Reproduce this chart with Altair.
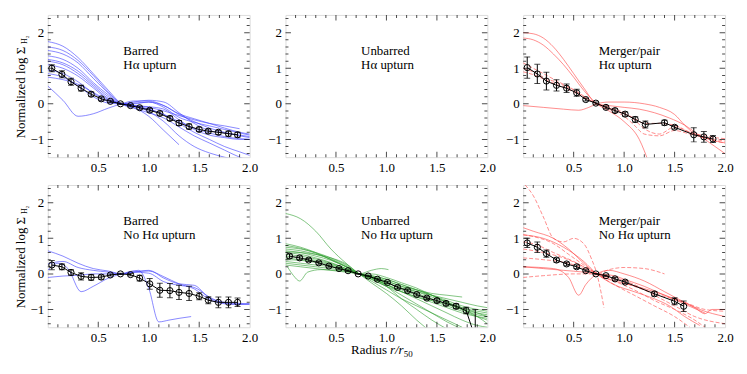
import altair as alt
import pandas as pd

W, H = 203, 143
FONT = "Times New Roman, Liberation Serif, DejaVu Serif, serif"

# radial bins of the mean profiles
R = [0.04, 0.14, 0.23, 0.33, 0.43, 0.53, 0.62, 0.72, 0.82, 0.91,
     1.01, 1.11, 1.21, 1.30, 1.40, 1.50, 1.59, 1.69, 1.79, 1.88]

# mean profiles and errors
BAR_UP_MEAN = [1.0, 0.83, 0.62, 0.44, 0.27, 0.14, 0.07, 0.0, -0.05, -0.11,
               -0.18, -0.27, -0.41, -0.54, -0.64, -0.72, -0.77, -0.8, -0.84, -0.87]
BAR_UP_ERR = [0.1, 0.1, 0.1, 0.08, 0.06, 0.05, 0.03, 0.02, 0.03, 0.04,
              0.05, 0.05, 0.06, 0.07, 0.07, 0.06, 0.06, 0.06, 0.07, 0.07]
MRG_UP_MEAN = [1.02, 0.84, 0.64, 0.52, 0.44, 0.31, 0.12, 0.02, -0.1, -0.19,
               -0.29, -0.44, -0.58, None, -0.53, -0.66, None, -0.87, -0.93, -0.99]
MRG_UP_ERR = [0.3, 0.27, 0.25, 0.16, 0.12, 0.1, 0.04, 0.03, 0.04, 0.05,
              0.06, 0.08, 0.1, None, 0.07, 0.05, None, 0.2, 0.15, 0.1]
BAR_NO_MEAN = [0.25, 0.2, 0.04, -0.07, -0.1, -0.09, -0.03, 0.0, -0.02, -0.12,
               -0.28, -0.46, -0.47, -0.52, -0.55, -0.63, -0.74, -0.8, -0.8, -0.8]
BAR_NO_ERR = [0.13, 0.08, 0.08, 0.1, 0.08, 0.06, 0.03, 0.02, 0.03, 0.08,
              0.15, 0.2, 0.2, 0.2, 0.2, 0.1, 0.1, 0.15, 0.15, 0.12]
UNB_NO_MEAN = [0.5, 0.45, 0.39, 0.31, 0.22, 0.15, 0.09, 0.0, -0.06, -0.15,
               -0.24, -0.38, -0.47, -0.58, -0.68, -0.75, -0.83, -0.91, -1.03, -1.8]
UNB_NO_ERR = [0.06, 0.05, 0.04, 0.04, 0.03, 0.03, 0.02, 0.01, 0.02, 0.03,
              0.03, 0.04, 0.04, 0.04, 0.04, 0.05, 0.05, 0.07, 0.09, 0.8]
MRG_NO_MEAN = [0.87, 0.75, 0.57, 0.39, 0.28, 0.2, 0.09, 0.0, -0.05, -0.14,
               -0.23, None, None, -0.56, None, -0.77, -0.91, None, None, None]
MRG_NO_ERR = [0.13, 0.15, 0.1, 0.06, 0.05, 0.05, 0.03, 0.01, 0.02, 0.04,
              0.04, None, None, 0.06, None, 0.1, 0.15, None, None, None]

# individual galaxy profiles
GRID = [0.0, 0.15, 0.3, 0.45, 0.6, 0.73, 0.85, 1.0, 1.15, 1.3, 1.45, 1.6, 1.75, 1.9, 2.0]

BAR_UP_LINES = [
    [1.75, 1.62, 1.3, 0.85, 0.38, 0.0, -0.12, -0.25, -0.4, -0.65, -0.9, -1.1, -1.3, -1.5, -1.6],
    [1.6, 1.5, 1.22, 0.8, 0.33, 0.0, -0.08, -0.15, -0.3, -0.55, -0.8, -1.0, -1.2, -1.35, -1.45],
    [1.5, 1.4, 1.15, 0.72, 0.3, 0.0, -0.05, -0.08, -0.15, -0.45, -0.72, -0.88, -0.95, -1.0, -1.0],
    [1.35, 1.25, 1.0, 0.6, 0.25, 0.0, 0.05, 0.1, 0.05, -0.25, -0.55, -0.75, -0.82, -0.88, -0.92],
    [1.25, 1.15, 0.92, 0.55, 0.2, 0.0, 0.0, 0.05, -0.1, -0.38, -0.52, -0.62, -0.72, -0.82, -0.88],
    [1.2, 1.1, 0.85, 0.5, 0.15, 0.0, -0.05, -0.22, -0.5, -0.9, -1.2, -1.38, -1.5, -1.6, None],
    [1.1, 1.0, 0.78, 0.45, 0.12, 0.0, -0.1, -0.35, -0.75, -1.15, None, None, None, None, None],
    [0.95, 0.85, 0.62, 0.3, 0.06, 0.0, -0.05, -0.1, -0.2, -0.33, -0.45, -0.55, -0.62, -0.7, None],
    [0.85, 0.75, 0.5, 0.2, 0.02, 0.0, 0.02, 0.05, -0.05, -0.28, -0.42, -0.55, -0.68, -0.8, -0.85],
    [0.75, 0.68, 0.55, 0.32, 0.1, 0.0, -0.05, -0.15, -0.3, -0.5, -0.68, -0.82, -0.92, -0.98, -1.0],
    [0.5, 0.1, -0.35, -0.28, -0.12, 0.0, 0.08, 0.08, -0.05, -0.3, -0.5, -0.68, -0.8, -0.9, -0.95],
]

BAR_NO_LINES = [
    [0.65, 0.5, 0.3, 0.15, 0.08, 0.0, 0.05, 0.02, -0.22, -0.32, -0.38, -0.65, -0.82, -0.85, -0.85],
    [0.28, 0.35, 0.18, 0.1, 0.05, 0.0, 0.05, 0.1, -0.12, -0.28, -0.32, -0.68, -0.8, -0.83, -0.85],
    [-0.1, -0.06, -0.04, 0.0, 0.0, 0.0, 0.05, 0.08, -0.08, -0.28, -0.42, -0.72, -0.84, -0.86, -0.84],
]
BAR_NO_DIP_X = [0.0, 0.1, 0.2, 0.33, 0.45, 0.6, 0.73, 0.9, 1.0, 1.1, 1.2, 1.3, 1.42]
BAR_NO_DIP_Y = [0.1, 0.3, 0.15, -0.5, -0.35, -0.12, 0.0, 0.1, -0.4, -1.35, -1.3, -1.25, -1.2]

UNB_NO_LINES = [
    [1.7, 1.55, 1.2, 0.7, 0.3, 0.0, -0.15, -0.35, -0.5, -0.65, -0.8, -0.95, -1.1, -1.2, -1.25],
    [0.85, 0.75, 0.6, 0.4, 0.2, 0.0, -0.1, -0.3, -0.45, -0.6, -0.75, -0.9, -1.05, -1.2, -1.3],
    [0.8, 0.72, 0.58, 0.4, 0.2, 0.0, -0.12, -0.3, -0.5, -0.7, -0.9, -1.1, -1.3, -1.45, -1.5],
    [0.75, 0.7, 0.6, 0.45, 0.25, 0.0, -0.2, -0.45, -0.7, -0.9, -1.1, -1.3, -1.5, None, None],
    [0.7, 0.65, 0.55, 0.42, 0.22, 0.0, -0.1, -0.25, -0.4, -0.5, -0.6, -0.7, -0.8, -0.9, -0.95],
    [0.65, 0.6, 0.5, 0.38, 0.2, 0.0, -0.08, -0.2, -0.35, -0.5, -0.65, -0.8, -0.95, -1.05, -1.1],
    [0.6, 0.55, 0.45, 0.32, 0.15, 0.0, -0.1, -0.25, -0.4, -0.55, -0.7, -0.85, -1.0, -1.15, -1.2],
    [0.55, 0.5, 0.42, 0.3, 0.15, 0.0, -0.05, -0.15, -0.3, -0.45, -0.6, -0.8, -0.95, -1.1, -1.2],
    [0.5, 0.45, 0.38, 0.28, 0.12, 0.0, -0.15, -0.35, -0.6, -0.85, -1.1, -1.35, -1.55, None, None],
    [0.45, 0.4, 0.35, 0.25, 0.12, 0.0, -0.1, -0.3, -0.5, -0.65, -0.75, -0.85, -1.0, -1.1, -1.15],
    [0.4, 0.38, 0.32, 0.22, 0.1, 0.0, -0.08, -0.2, -0.35, -0.45, -0.55, -0.6, -0.65, None, None],
    [0.35, 0.3, 0.25, 0.2, 0.1, 0.0, -0.05, -0.15, -0.3, -0.45, -0.6, -0.75, -0.9, -1.0, -1.05],
    [0.3, 0.25, 0.2, 0.15, 0.08, 0.0, 0.0, -0.1, -0.25, -0.4, -0.6, -0.8, -1.0, -1.2, -1.4],
    [0.25, 0.2, 0.15, 0.1, 0.05, 0.0, -0.1, -0.35, -0.7, -1.0, -1.3, -1.55, None, None, None],
    [0.62, 0.6, 0.55, 0.45, 0.28, 0.0, -0.25, -0.55, -0.9, -1.3, -1.65, None, None, None, None],
]
UNB_NO_BUMP_X = [0.02, 0.08, 0.14, 0.22, 0.35, 0.5, 0.65, 0.73, 0.85, 0.95, 1.02]
UNB_NO_BUMP_Y = [0.2, -0.05, -0.2, 0.05, 0.12, 0.1, 0.05, 0.0, 0.1, 0.15, 0.12]

# merger/pair profiles: (x, y, dashed)
MRG_UP_LINES = [
    ([0, 0.1, 0.2, 0.3, 0.4, 0.5, 0.6, 0.73, 0.85, 1.0, 1.15, 1.3, 1.45, 1.6, 1.75, 1.9, 2.0],
     [2.0, 1.97, 1.85, 1.6, 1.25, 0.85, 0.45, 0.0, -0.05, -0.1, -0.15, -0.25, -0.4, -0.6, -0.9, -1.2, -1.4], False),
    ([0, 0.1, 0.2, 0.3, 0.4, 0.5, 0.6, 0.73, 0.85, 1.0, 1.15, 1.25],
     [1.85, 1.8, 1.65, 1.4, 1.1, 0.75, 0.38, 0.0, -0.2, -0.5, -1.0, -1.7], False),
    ([0, 0.2, 0.4, 0.55, 0.65, 0.73, 0.85, 1.0, 1.2, 1.35, 1.5, 1.6, 1.7, 1.85, 2.0],
     [-0.05, -0.1, -0.15, -0.18, -0.1, 0.0, 0.05, 0.05, 0.0, -0.1, -0.3, -0.6, -0.85, -1.0, -1.1], False),
    ([0, 0.1, 0.2, 0.35, 0.5, 0.6, 0.73, 0.85, 1.0, 1.1, 1.2, 1.35, 1.5, 1.65, 1.8, 1.9, 2.0],
     [1.15, 1.0, 0.85, 0.62, 0.4, 0.22, 0.0, -0.12, -0.28, -0.4, -0.55, -0.55, -0.6, -0.8, -0.9, -0.95, -0.98], True),
    ([0, 0.1, 0.2, 0.35, 0.5, 0.6, 0.73, 0.85, 1.0, 1.1, 1.2, 1.35, 1.5, 1.65, 1.8, 1.9, 2.0],
     [1.0, 0.9, 0.75, 0.58, 0.38, 0.2, 0.0, -0.15, -0.35, -0.6, -0.85, -0.9, -0.75, -0.85, -0.95, -1.0, -1.05], True),
    ([0, 0.1, 0.2, 0.35, 0.5, 0.6, 0.73, 0.85, 1.0, 1.1, 1.2, 1.35, 1.5, 1.65, 1.8, 1.9, 2.0],
     [0.9, 0.82, 0.7, 0.52, 0.33, 0.18, 0.0, -0.1, -0.25, -0.45, -0.7, -0.85, -0.65, -0.8, -0.95, -1.05, -1.1], True),
]

MRG_NO_LINES = [
    ([0.02, 0.1, 0.2, 0.3, 0.4, 0.5, 0.6, 0.68, 0.73, 0.77, 0.8],
     [2.5, 2.2, 1.6, 1.0, 0.9, 1.0, 0.85, 0.4, 0.0, -0.5, -0.95], True),
    ([0, 0.1, 0.3, 0.45, 0.6, 0.73, 0.9, 1.05, 1.3, 1.5, 1.7, 1.8, 1.87, 2.0],
     [1.3, 1.2, 1.0, 0.7, 0.3, 0.0, -0.2, -0.3, -0.5, -0.7, -0.95, -1.12, -1.0, -1.0], False),
    ([0, 0.3, 0.45, 0.55, 0.62, 0.73, 0.85, 1.0, 1.2, 1.4, 1.6, 1.75, 2.0],
     [0.2, 0.15, -0.1, -0.6, -0.3, 0.0, 0.1, 0.0, -0.2, -0.5, -0.8, -1.0, -1.2], False),
    ([0, 0.1, 0.3, 0.45, 0.6, 0.73, 0.9, 1.1, 1.3, 1.5, 1.65],
     [1.1, 1.05, 0.85, 0.55, 0.25, 0.0, -0.3, -0.6, -0.9, -1.2, -1.5], True),
    ([0, 0.2, 0.45, 0.6, 0.73, 0.85, 1.0, 1.2, 1.4],
     [0.45, 0.4, 0.3, 0.15, 0.0, 0.12, 0.18, 0.15, 0.0], True),
    ([0, 0.2, 0.5, 0.73, 0.9, 1.1, 1.3, 1.5, 1.7, 2.0],
     [-0.1, -0.05, 0.0, 0.0, -0.1, -0.3, -0.6, -0.9, -1.2, -1.4], True),
    ([0, 0.2, 0.4, 0.6, 0.73, 0.9, 1.1, 1.3, 1.45, 1.6, 1.75],
     [1.1, 1.0, 0.75, 0.35, 0.0, -0.3, -0.5, -0.7, -0.9, -1.2, -1.45], False),
    ([0, 0.2, 0.4, 0.6, 0.73, 0.9, 1.1, 1.3, 1.5, 1.7, 1.8],
     [0.7, 0.6, 0.45, 0.2, 0.0, -0.2, -0.45, -0.75, -1.0, -1.3, -1.5], True),
    ([0, 0.1, 0.3, 0.5, 0.73, 0.9, 1.05, 1.3, 1.6, 1.8, 2.0],
     [0.9, 0.85, 0.6, 0.35, 0.0, -0.15, -0.3, -0.55, -0.8, -1.0, -1.05], True),
    ([0, 0.2, 0.4, 0.6, 0.73, 0.9, 1.0, 1.2, 1.4, 1.6, 1.8],
     [0.2, 0.15, 0.1, 0.05, 0.0, -0.05, -0.15, -0.35, -0.6, -0.85, -1.1], False),
]

# inward tick marks (positions in data units)
XTICKS = [0.1, 0.2, 0.3, 0.4, 0.5, 0.6, 0.7, 0.8, 0.9, 1.0,
          1.1, 1.2, 1.3, 1.4, 1.5, 1.6, 1.7, 1.8, 1.9]
XMAJOR = [0.5, 1.0, 1.5]
YTICKS = [-1.4, -1.2, -1.0, -0.8, -0.6, -0.4, -0.2, 0.0, 0.2, 0.4, 0.6, 0.8,
          1.0, 1.2, 1.4, 1.6, 1.8, 2.0, 2.2, 2.4]
YMAJOR = [-1.0, 0.0, 1.0, 2.0]

XSC = alt.Scale(domain=[0, 2], nice=False, zero=False)
YSC = alt.Scale(domain=[-1.5, 2.5], nice=False, zero=False)
AXCOMMON = dict(title=None, grid=False, ticks=False, domain=False,
                labelFlush=False, labelOverlap=False, labelFont=FONT,
                labelFontSize=13, labelColor="black", labelPadding=4)
XAX = alt.Axis(values=[0.5, 1.0, 1.5, 2.0], format=".1f", **AXCOMMON)
YAX = alt.Axis(values=[-1, 0, 1, 2], format="d", **AXCOMMON)


def X(f="x"):
    return alt.X(f"{f}:Q", scale=XSC, axis=XAX)


def Y(f="y"):
    return alt.Y(f"{f}:Q", scale=YSC, axis=YAX)


def grid_lines(rows):
    return [(GRID, ys, False) for ys in rows]


def lines_df(lines):
    out = []
    for i, (xs, ys, d) in enumerate(lines):
        for j, (x, y) in enumerate(zip(xs, ys)):
            if y is None:
                continue
            out.append({"line": i, "x": x, "y": y, "order": j, "dashed": d})
    return pd.DataFrame(out)


def mean_df(mean, err):
    return pd.DataFrame([{"x": r, "y": m, "lo": m - e, "hi": m + e}
                         for r, m, e in zip(R, mean, err) if m is not None])


xt = pd.DataFrame({"x": XTICKS, "len": [11 if v in XMAJOR else 6 for v in XTICKS]})
yt = pd.DataFrame({"y": YTICKS, "len": [11 if v in YMAJOR else 6 for v in YTICKS]})


def tick_layers():
    tx = alt.Chart(xt).mark_tick(orient="vertical", thickness=1, color="black", clip=True)
    ty = alt.Chart(yt).mark_tick(orient="horizontal", thickness=1, color="black", clip=True)
    s = alt.Size("len:Q", scale=None)
    return [
        tx.encode(x=X(), y=alt.value(H), size=s),
        tx.encode(x=X(), y=alt.value(0), size=s),
        ty.encode(y=Y(), x=alt.value(0), size=s),
        ty.encode(y=Y(), x=alt.value(W), size=s),
    ]


def txt(text, x, y, size=13, **kw):
    return alt.Chart(pd.DataFrame({"k": [0]})).mark_text(
        text=text, font=FONT, fontSize=size, color="black", **kw
    ).encode(x=alt.value(x), y=alt.value(y))


def panel(label, lines, color, mean=None, err=None, left=False, xtitle=False):
    layers = []
    if lines:
        df = lines_df(lines)
        for dashed in (False, True):
            sub = df[df["dashed"] == dashed]
            if len(sub) == 0:
                continue
            kw = dict(color=color, strokeWidth=1, opacity=0.6, clip=True,
                      interpolate="monotone")
            if dashed:
                kw["strokeDash"] = [4, 2]
            layers.append(alt.Chart(sub).mark_line(**kw).encode(
                x=X(), y=Y(), detail="line:N", order="order:Q"))
    if mean is not None:
        md = mean_df(mean, err)
        base = alt.Chart(md)
        layers += [
            base.mark_line(color="black", strokeWidth=1, clip=True).encode(x=X(), y=Y()),
            base.mark_rule(color="black", strokeWidth=1, clip=True).encode(
                x=X(), y=Y("lo"), y2="hi:Q"),
            base.mark_tick(orient="horizontal", size=6, thickness=1, color="black",
                           clip=True).encode(x=X(), y=Y("lo")),
            base.mark_tick(orient="horizontal", size=6, thickness=1, color="black",
                           clip=True).encode(x=X(), y=Y("hi")),
            base.mark_point(shape="circle", filled=False, size=38, color="black",
                            strokeWidth=1, opacity=1, clip=True).encode(x=X(), y=Y()),
        ]
    layers += tick_layers()
    # two-line panel label, one text mark per line
    layers.append(txt(label[0], 76, 36, align="left", baseline="middle"))
    layers.append(txt(label[1], 76, 50.5, align="left", baseline="middle"))
    if left:
        layers.append(txt("Normalized log Σ", -27, 78, angle=270,
                          align="center", baseline="middle"))
        layers.append(txt("H₂", -23, 25, size=8, angle=270,
                          align="center", baseline="middle"))
    if xtitle:
        layers.append(txt("Radius", 66, H + 23, align="left", baseline="middle"))
        layers.append(txt("r/r", 105, H + 23, align="left", baseline="middle",
                          fontStyle="italic"))
        layers.append(txt("50", 119, H + 27, size=9, align="left", baseline="middle"))
    return alt.layer(*layers).properties(width=W, height=H)


BLUE = "#3a3aff"
RED = "#ff4040"
GREEN = "#2f9f2f"

p1 = panel(["Barred", "Hα upturn"], grid_lines(BAR_UP_LINES), BLUE,
           BAR_UP_MEAN, BAR_UP_ERR, left=True)
p2 = panel(["Unbarred", "Hα upturn"], None, GREEN)
p3 = panel(["Merger/pair", "Hα upturn"], MRG_UP_LINES, RED, MRG_UP_MEAN, MRG_UP_ERR)
p4 = panel(["Barred", "No Hα upturn"],
           grid_lines(BAR_NO_LINES) + [(BAR_NO_DIP_X, BAR_NO_DIP_Y, False)], BLUE,
           BAR_NO_MEAN, BAR_NO_ERR, left=True)
p5 = panel(["Unbarred", "No Hα upturn"],
           grid_lines(UNB_NO_LINES) + [(UNB_NO_BUMP_X, UNB_NO_BUMP_Y, False)], GREEN,
           UNB_NO_MEAN, UNB_NO_ERR, xtitle=True)
p6 = panel(["Merger/pair", "No Hα upturn"], MRG_NO_LINES, RED, MRG_NO_MEAN, MRG_NO_ERR)

chart = alt.concat(p1, p2, p3, p4, p5, p6, columns=3,
                   spacing={"row": 28, "column": 36}, bounds="flush").properties(
    padding={"left": 6, "top": 5, "right": 5, "bottom": 5}
).configure_view(stroke="black", strokeWidth=1).configure_axis(
    domain=False, ticks=False, grid=False, labelFont=FONT, labelFontSize=13,
    labelColor="black", labelPadding=4
).configure_text(font=FONT).configure(background="white")

chart.save("out.html", embed_options={"renderer": "svg", "actions": False})
